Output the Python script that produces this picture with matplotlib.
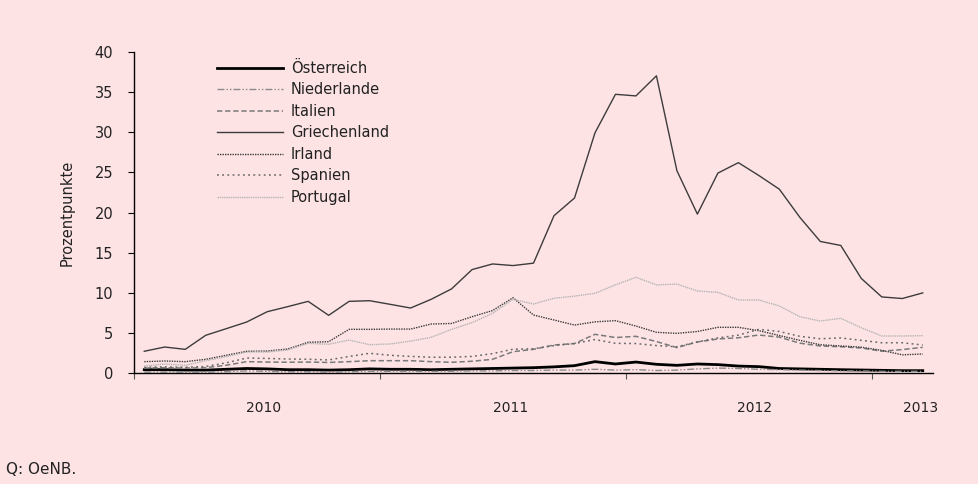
import numpy as np
import matplotlib
matplotlib.use("Agg")
import matplotlib.pyplot as plt

# monthly spreads, Jan 2010 - Mar 2013 (Prozentpunkte)
oesterreich = [0.45, 0.45, 0.4, 0.4, 0.5, 0.6, 0.55, 0.45, 0.45, 0.4, 0.45, 0.55,
               0.5, 0.5, 0.45, 0.5, 0.55, 0.6, 0.65, 0.7, 0.8, 0.95, 1.45, 1.16,
               1.4, 1.12, 0.99, 1.16, 1.08, 0.9, 0.83, 0.6, 0.55, 0.5, 0.45, 0.41,
               0.37, 0.33, 0.33]
niederlande = [0.15, 0.15, 0.15, 0.15, 0.2, 0.3, 0.25, 0.2, 0.2, 0.15, 0.2, 0.25,
               0.25, 0.25, 0.25, 0.25, 0.3, 0.3, 0.35, 0.35, 0.4, 0.4, 0.5, 0.4,
               0.45, 0.35, 0.4, 0.55, 0.65, 0.6, 0.5, 0.45, 0.4, 0.35, 0.3, 0.3,
               0.25, 0.25, 0.25]
italien = [0.65, 0.7, 0.65, 0.7, 1.0, 1.45, 1.4, 1.38, 1.4, 1.35, 1.45, 1.57,
           1.57, 1.57, 1.45, 1.37, 1.5, 1.74, 2.69, 2.98, 3.52, 3.7, 4.85, 4.45,
           4.6, 3.95, 3.2, 3.9, 4.27, 4.42, 4.76, 4.5, 3.75, 3.4, 3.3, 3.15,
           2.75, 2.95, 3.23]
griechenland = [2.74, 3.27, 2.98, 4.73, 5.55, 6.38, 7.66, 8.29, 8.95, 7.21, 8.95, 9.03,
                8.58, 8.12, 9.2, 10.5, 12.9, 13.6, 13.4, 13.7, 19.6, 21.8, 29.9, 34.7,
                34.5, 37.0, 25.2, 19.8, 24.9, 26.2, 24.6, 22.9, 19.4, 16.4, 15.9, 11.8,
                9.5, 9.3, 10.0]
irland = [1.45, 1.53, 1.45, 1.74, 2.24, 2.74, 2.77, 3.02, 3.86, 3.93, 5.47, 5.47,
          5.5, 5.5, 6.13, 6.2, 7.04, 7.8, 9.4, 7.25, 6.63, 6.0, 6.4, 6.55,
          5.88, 5.1, 4.97, 5.2, 5.72, 5.72, 5.3, 4.7, 4.1, 3.55, 3.4, 3.25,
          2.85, 2.3, 2.4]
spanien = [0.75, 0.8, 0.75, 0.85, 1.3, 1.9, 1.85, 1.78, 1.75, 1.66, 2.1, 2.49,
           2.24, 2.1, 2.0, 2.0, 2.1, 2.45, 3.0, 3.05, 3.45, 3.7, 4.2, 3.73,
           3.7, 3.45, 3.3, 3.9, 4.4, 4.75, 5.47, 5.2, 4.6, 4.3, 4.4, 4.1,
           3.8, 3.8, 3.52]
portugal = [0.91, 1.16, 0.99, 1.57, 2.07, 2.65, 2.65, 2.9, 3.73, 3.61, 4.14, 3.56,
            3.65, 4.0, 4.47, 5.47, 6.3, 7.46, 9.2, 8.62, 9.33, 9.6, 9.95, 11.0,
            11.94, 11.0, 11.1, 10.24, 10.07, 9.12, 9.12, 8.37, 7.04, 6.5, 6.84, 5.67,
            4.64, 4.64, 4.68]

years = ["2010", "2011", "2012", "2013"]
year_pos = [5.8, 17.9, 29.8, 37.9]
year_ticks = [-0.5, 11.5, 23.5, 35.5]

bg = "#fee3e5"
plt.rcParams["font.family"] = ["DejaVu Sans"]

fig = plt.figure(figsize=(9.79, 4.84), dpi=100, facecolor=bg)
ax = fig.add_axes([0.1369, 0.2287, 0.8161, 0.6645], facecolor=bg)

x = np.arange(len(griechenland))
ax.plot(x, oesterreich, color="black", lw=2.0, label="Österreich")
ax.plot(x, niederlande, color="#8a8a8a", lw=1, dashes=(5, 1.5, 1, 1.5, 1, 1.5), label="Niederlande")
ax.plot(x, italien, color="#7a7a7a", lw=1.1, dashes=(3.5, 1.8), label="Italien")
ax.plot(x, griechenland, color="#3c3c3c", lw=1, label="Griechenland")
ax.plot(x, irland, color="#3a3a3a", lw=1, dashes=(1, 0.8), label="Irland")
ax.plot(x, spanien, color="#666666", lw=1.1, dashes=(1.2, 2.2), label="Spanien")
ax.plot(x, portugal, color="#b4b4b4", lw=1, dashes=(1, 0.6), label="Portugal")

ax.set_ylim(0, 40)
ax.set_yticks(np.arange(0, 41, 5))
ax.set_xlim(-0.5, 38.5)
ax.set_xticks(year_ticks)
ax.set_xticklabels([])
ax.set_xticks(year_pos, minor=True)
ax.set_xticklabels(years, minor=True)
ax.tick_params(axis="x", which="major", direction="out", length=4, width=0.8, color="#555555")
ax.tick_params(axis="x", which="minor", length=0, pad=20, labelsize=10, labelcolor="#222222")
ax.tick_params(axis="y", direction="out", length=4, width=0.8, pad=11, labelsize=10.5,
               labelcolor="#222222")

for s in ["top", "right"]:
    ax.spines[s].set_visible(False)
ax.spines["left"].set_linewidth(1)
ax.spines["bottom"].set_linewidth(1)

ax.set_ylabel("Prozentpunkte", fontsize=10.5, labelpad=14, color="#222222")

ax.legend(loc="upper left", bbox_to_anchor=(0.104, 0.972), frameon=False, fontsize=10.5,
          handlelength=4.5, handletextpad=0.55, labelspacing=0.445, borderpad=0, borderaxespad=0,
          labelcolor="#222222")

fig.text(0.006, 0.03, "Q: OeNB.", fontsize=11, ha="left", va="center", color="#222222")

fig.savefig("out.png", dpi=100, facecolor=bg)
